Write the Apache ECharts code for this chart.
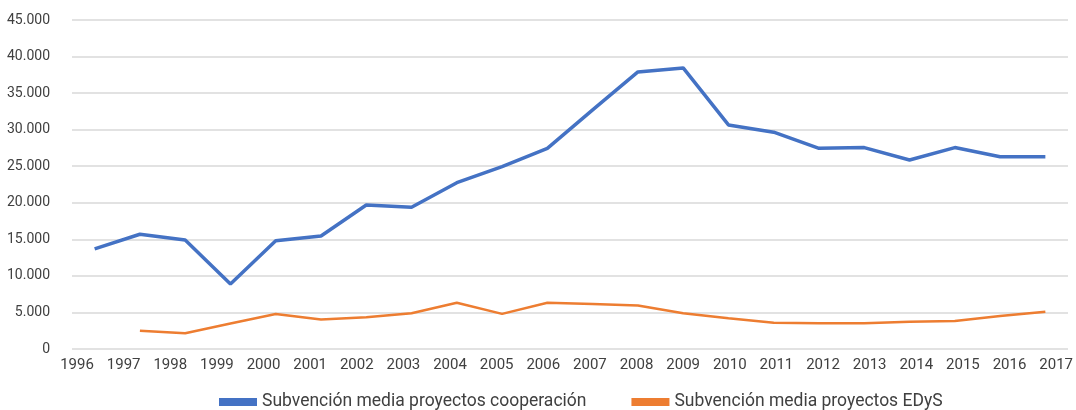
<!DOCTYPE html>
<html>
<head>
<meta charset="utf-8">
<script src="https://cdn.jsdelivr.net/npm/echarts@6/dist/echarts.min.js"></script>
<style>
html,body{margin:0;padding:0;background:#fff;}
#chart{width:1076px;height:410px;}
</style>
</head>
<body>
<div id="chart"></div>
<script>
const years = ['1996','1997','1998','1999','2000','2001','2002','2003','2004','2005','2006','2007','2008','2009','2010','2011','2012','2013','2014','2015','2016','2017'];
const cooperacion = [13700, 15700, 14900, 8900, 14800, 15450, 19700, 19400, 22750, 24950, 27450, 32700, 37900, 38450, 30650, 29650, 27450, 27550, 25850, 27550, 26300, 26300];
const edys = [null, 2500, 2150, 3500, 4800, 4050, 4330, 4880, 6330, 4800, 6330, 6150, 5950, 4880, 4200, 3600, 3510, 3510, 3740, 3830, 4510, 5110];
const yTicks = {min: 0, max: 45000, interval: 5000};
const seriesNames = ['Subvención media proyectos cooperación', 'Subvención media proyectos EDyS'];

const FONT = "Roboto, 'Liberation Sans', sans-serif";
const chart = echarts.init(document.getElementById('chart'), null, {renderer: 'canvas'});
const fmt = v => String(v).replace(/\B(?=(\d{3})+(?!\d))/g, '.');

chart.setOption({
  backgroundColor: '#ffffff',
  animation: false,
  textStyle: {fontFamily: FONT},
  grid: [
    {left: 72, right: 8, top: 20, bottom: 61},
    {left: 77, right: 17, top: 20, bottom: 61}
  ],
  legend: {
    left: 214, top: 388, width: 850,
    itemWidth: 38, itemHeight: 8, itemGap: 45,
    icon: 'rect',
    textStyle: {fontFamily: FONT, fontSize: 17.5, color: '#404040'},
    data: seriesNames
  },
  xAxis: [
    {type: 'category', gridIndex: 0, data: years, boundaryGap: true,
     axisLine: {show: false}, axisTick: {show: false}, axisLabel: {show: false}, splitLine: {show: false}},
    {type: 'category', gridIndex: 1, data: years, boundaryGap: false,
     axisLine: {show: false}, axisTick: {show: false}, splitLine: {show: false},
     axisLabel: {fontFamily: FONT, fontSize: 15, color: '#404040', margin: 9, interval: 0}}
  ],
  yAxis: [
    {type: 'value', gridIndex: 0, min: yTicks.min, max: yTicks.max, interval: yTicks.interval,
     axisLine: {show: false}, axisTick: {show: false},
     axisLabel: {fontFamily: FONT, fontSize: 14, color: '#404040', margin: 22, formatter: fmt},
     splitLine: {lineStyle: {color: '#e2e2e2', width: 2}}},
    {type: 'value', gridIndex: 1, min: yTicks.min, max: yTicks.max, show: false}
  ],
  series: [
    {name: seriesNames[0], type: 'line', xAxisIndex: 0, yAxisIndex: 0, data: cooperacion,
     symbol: 'none', lineStyle: {color: '#4472c4', width: 3.5}, itemStyle: {color: '#4472c4'}},
    {name: seriesNames[1], type: 'line', xAxisIndex: 0, yAxisIndex: 0, data: edys,
     symbol: 'none', lineStyle: {color: '#ed7d31', width: 2.5}, itemStyle: {color: '#ed7d31'}}
  ]
});
</script>
</body>
</html>
